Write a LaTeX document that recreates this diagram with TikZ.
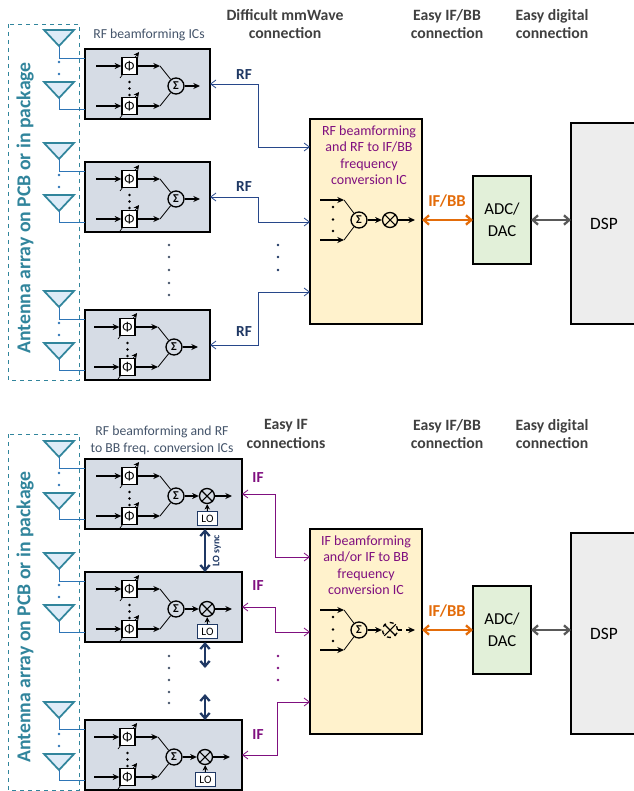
\documentclass[tikz,border=0pt]{standalone}
\usepackage{fontspec}
\setmainfont{Carlito}
\usetikzlibrary{
  arrows.meta,
}
\definecolor{tealline}{HTML}{31859C}
\definecolor{feedblue}{HTML}{2E75B6}
\definecolor{antfill}{HTML}{DEEBF7}
\definecolor{chipfill}{HTML}{D6DCE5}
\definecolor{navy}{HTML}{1F3864}
\definecolor{rfblue}{HTML}{27478A}
\definecolor{ifpurple}{HTML}{7F0F7F}
\definecolor{slate}{HTML}{44546A}
\definecolor{headgray}{HTML}{404040}
\definecolor{icfill}{HTML}{FFF2CC}
\definecolor{adcfill}{HTML}{E2F0D9}
\definecolor{dspfill}{HTML}{EDEDED}
\definecolor{orangeline}{HTML}{E36C0A}
\definecolor{grayline}{HTML}{595959}
\tikzset{
  head/.style={font=\fontsize{11.8}{13.6}\selectfont\bfseries, text=headgray, align=center},
  note/.style={font=\fontsize{10.3}{12.6}\selectfont, text=slate, align=center},
  ictext/.style={font=\fontsize{10.5}{12.3}\selectfont, text=ifpurple, align=center},
  antlabel/.style={font=\fontsize{14.8}{18}\selectfont\bfseries, text=tealline, rotate=90},
  rflabel/.style={font=\fontsize{11.5}{14}\selectfont\bfseries, text=navy},
  iflabel/.style={font=\fontsize{11.5}{14}\selectfont\bfseries, text=ifpurple},
  bblabel/.style={font=\fontsize{12.5}{14}\selectfont\bfseries, text=orangeline},
  array/.style={draw=tealline, dashed, line width=.6pt},
  chipbox/.style={draw=black, fill=chipfill, line width=1.1pt, anchor=north west,
    minimum height=70*.75pt, outer sep=0pt},
  icbox/.style={draw=black, fill=icfill, line width=1pt, anchor=north west,
    minimum width=112*.75pt, minimum height=205*.75pt, outer sep=0pt},
  adcbox/.style={draw=black, fill=adcfill, line width=1pt, minimum width=58*.75pt,
    minimum height=88*.75pt, outer sep=0pt, align=center, font=\fontsize{12.5}{16.5}\selectfont},
  dspbox/.style={draw=black, fill=dspfill, line width=1pt, minimum width=66*.75pt,
    minimum height=201*.75pt, outer sep=0pt, font=\fontsize{13}{14}\selectfont},
  phasebox/.style={draw=black, fill=white, line width=1pt, inner sep=0pt,
    minimum width=15*.75pt, minimum height=17*.75pt, font=\fontsize{10}{10}\selectfont},
  sumnode/.style={draw=black, circle, line width=1pt, inner sep=0pt,
    minimum size=16*.75pt, font=\fontsize{9}{9}\selectfont\bfseries},
  mixnode/.style={draw=black, circle, line width=1pt, inner sep=0pt, minimum size=15*.75pt},
  lobox/.style={draw=navy, fill=white, line width=.7pt, inner sep=0pt,
    minimum width=20*.75pt, minimum height=14*.75pt, font=\fontsize{8.5}{9}\selectfont},
  sig/.style={line width=.8pt, -{Stealth[length=5pt,width=4.5pt]}},
  wire/.style={line width=.6pt},
  feedline/.style={draw=feedblue, line width=.7pt},
  rfline/.style={draw=rfblue, line width=.6pt, {Straight Barb[length=4pt,width=6pt]}-{Straight Barb[length=4pt,width=6pt]}},
  ifline/.style={draw=ifpurple, line width=.6pt, {Straight Barb[length=4pt,width=6pt]}-{Straight Barb[length=4pt,width=6pt]}},
  bbline/.style={draw=orangeline, line width=1.7pt, {Straight Barb[length=4pt,width=7pt]}-{Straight Barb[length=4pt,width=7pt]}},
  digline/.style={draw=grayline, line width=1.7pt, {Straight Barb[length=4pt,width=7pt]}-{Straight Barb[length=4pt,width=7pt]}},
  syncline/.style={draw=navy, line width=1.7pt, {Straight Barb[length=4pt,width=7pt]}-{Straight Barb[length=4pt,width=7pt]}},
  antenna/.pic={
    \draw[draw=tealline, fill=antfill, line width=1.3pt, line join=miter] (-15,0) -- (15,0) -- (0,16) -- cycle;
    \coordinate (-tip) at (0,16);
  },
  bfcore/.pic={
    \foreach \q in {0,40} {
      \draw[sig, line width=.5pt, -{Stealth[length=4pt,width=4pt]}] (35,29+\q) -- (54,3+\q);
    }
    \node[phasebox] (-pa) at (44.5,17) {Φ};
    \node[phasebox] (-pb) at (44.5,57) {Φ};
    \node[sumnode] (-sum) at (91,37) {Σ};
    \coordinate (-ga) at (75,17);
    \coordinate (-gb) at (75,57);
    \draw[sig] (11,17) -- (-pa);
    \draw[sig] (11,57) -- (-pb);
    \draw[sig] (-pa) -- (-ga);
    \draw[sig] (-pb) -- (-gb);
    \draw[wire] (-ga) -- (-sum);
    \draw[wire] (-gb) -- (-sum);
    \foreach \q in {33,39.5,46} {
      \fill (44.5,\q) circle[radius=1.4];
    }
  },
  mixcore/.pic={
    \node[mixnode] (-mix) at (122,37) {};
    \node[lobox] (-lo) at (122.5,59.5) {LO};
    \coordinate (-out) at (147,37);
    \draw[wire, line width=.8pt] (-mix.45) -- (-mix.225) (-mix.135) -- (-mix.315);
    \draw[sig] (-mix) -- (-out);
    \draw[sig, -{Stealth[length=4pt,width=4pt]}] (-lo) -- (-mix);
  },
  iccore/.pic={
    \node[sumnode] (-sum) at (49,101) {Σ};
    \node[mixnode, #1] (-mix) at (80,101) {};
    \coordinate (-ga) at (34,81);
    \coordinate (-gb) at (34,121);
    \coordinate (-out) at (105,101);
    \draw[sig] (10,81) -- (-ga);
    \draw[sig] (10,121) -- (-gb);
    \draw[wire] (-ga) -- (-sum);
    \draw[wire] (-gb) -- (-sum);
    \draw[sig] (-sum) -- (-mix);
    \draw[wire, line width=.8pt] (-mix.45) -- (-mix.225) (-mix.135) -- (-mix.315);
    \draw[sig, #1] (-mix) -- (-out);
    \foreach \q in {88,100.5,112} {
      \fill (23,\q) circle[radius=1.4];
    }
  },
}
\begin{document}
\begin{tikzpicture}[x=.75pt,y=-.75pt]
\useasboundingbox (0,0) rectangle (633,791);

\node[head] (hmm) at (285,24) {Difficult mmWave\\connection};
\node[head] (hbba) at (447,24) {Easy IF/BB\\connection};
\node[head] (hdiga) at (552,24) {Easy digital\\connection};
\node[head] (hif) at (286,434) {Easy IF\\connections};
\node[head] (hbbb) at (447,434) {Easy IF/BB\\connection};
\node[head] (hdigb) at (552,434) {Easy digital\\connection};
\node[note] (noteup) at (149,35) {RF beamforming ICs};
\node[note] (notedown) at (162,440.5) {RF beamforming and RF\\to BB freq. conversion ICs};

\draw[array] (8,24) rectangle (79,380);
\draw[array] (8,434) rectangle (79,790);
\node[antlabel] (labup) at (25,208) {Antenna array on PCB or in package};
\node[antlabel] (labdown) at (25,617) {Antenna array on PCB or in package};

\foreach \n/\w/\x/\y/\t in {a/125/85/49/30, b/125/85/162/143, c/125/83/310/291, d/157/85/459/441, e/157/85/572/553, f/157/83/720/702} {
  \node[chipbox, minimum width=\w*.75pt] (\n) at (85,\y) {};
  \pic (\n core) at (\x,\y) {bfcore};
  \pic (\n up) at (59,\t) {antenna};
  \pic (\n dn) at (59,\t+52) {antenna};
  \coordinate (\n fa) at (85,\y+9);
  \coordinate (\n fb) at (85,\y+60);
  \draw[feedline] (\n up-tip) |- (\n fa);
  \draw[feedline] (\n dn-tip) |- (\n fb);
  \fill[feedblue] (59,\t+32) circle[radius=1.3];
  \fill[feedblue] (59,\t+44) circle[radius=1.3];
}
\foreach \n/\x/\y in {a/85/49, b/85/162, c/83/310} {
  \coordinate (\n out) at (\x+115,\y+37);
  \draw[sig] (\n core-sum) -- (\n out);
}
\foreach \n/\x/\y in {d/85/459, e/85/572, f/83/720} {
  \pic (\n mix) at (\x,\y) {mixcore};
  \draw[sig] (\n core-sum) -- (\n mix-mix);
}

\node[icbox] (icup) at (310,119) {};
\node[icbox] (icdown) at (310,529) {};
\node[ictext] (ictup) at (369,155) {RF beamforming\\and RF to IF/BB\\frequency\\conversion IC};
\node[ictext] (ictdown) at (366,565) {IF beamforming\\and/or IF to BB\\frequency\\conversion IC};
\pic (icau) at (310,119) {iccore=solid};
\pic (icad) at (310,529) {iccore=dashed};

\node[adcbox] (adcup) at (502,220) {ADC/\\DAC};
\node[adcbox] (adcdown) at (502,630) {ADC/\\DAC};
\node[dspbox] (dspup) at (604,223.5) {DSP};
\node[dspbox] (dspdown) at (604,633.5) {DSP};

\draw[rfline] (a.east) -- ++(48,0) |- (icup.west |- 0,147);
\draw[rfline] (b.east) -- ++(48,0) |- (icup.west |- 0,222);
\draw[rfline] (c.east) -- ++(48,0) |- (icup.west |- 0,292);
\draw[ifline] (d.east) -- ++(33,0) |- (icdown.west |- 0,557);
\draw[ifline] (e.east) -- ++(33,0) |- (icdown.west |- 0,632);
\draw[ifline] (f.east) -- ++(35,0) |- (icdown.west |- 0,702);
\node[rflabel] (rfa) at (244,75) {RF};
\node[rflabel] (rfb) at (244,187) {RF};
\node[rflabel] (rfc) at (244,332) {RF};
\node[iflabel] (ifa) at (258,478) {IF};
\node[iflabel] (ifb) at (258,586) {IF};
\node[iflabel] (ifc) at (258,735) {IF};

\draw[bbline] (icup.east |- adcup) -- (adcup);
\draw[bbline] (icdown.east |- adcdown) -- (adcdown);
\draw[digline] (adcup) -- (dspup.west |- adcup);
\draw[digline] (adcdown) -- (dspdown.west |- adcdown);
\node[bblabel] (bba) at (447,201) {IF/BB};
\node[bblabel] (bbb) at (447,611) {IF/BB};

\coordinate (sa) at (205,668);
\coordinate (sb) at (205,694);
\draw[syncline] (sa |- d.south) -- (sa |- e.north);
\draw[syncline] (sa |- e.south) -- (sa);
\draw[syncline] (sb) -- (sb |- f.north);
\node[font=\fontsize{7.5}{8}\selectfont\bfseries, text=navy, rotate=90] (losync) at (217,551) {LO sync};

\foreach \q in {245,257,270,283,295} {
  \fill[slate] (169,\q) circle[radius=1.4];
}
\foreach \q in {656,668,680,692,703} {
  \fill[slate] (169,\q) circle[radius=1.4];
}
\foreach \q in {245,257,270} {
  \fill[navy] (278,\q) circle[radius=1.4];
}
\foreach \q in {656,668,680} {
  \fill[ifpurple] (278,\q) circle[radius=1.4];
}
\end{tikzpicture}
\end{document}
